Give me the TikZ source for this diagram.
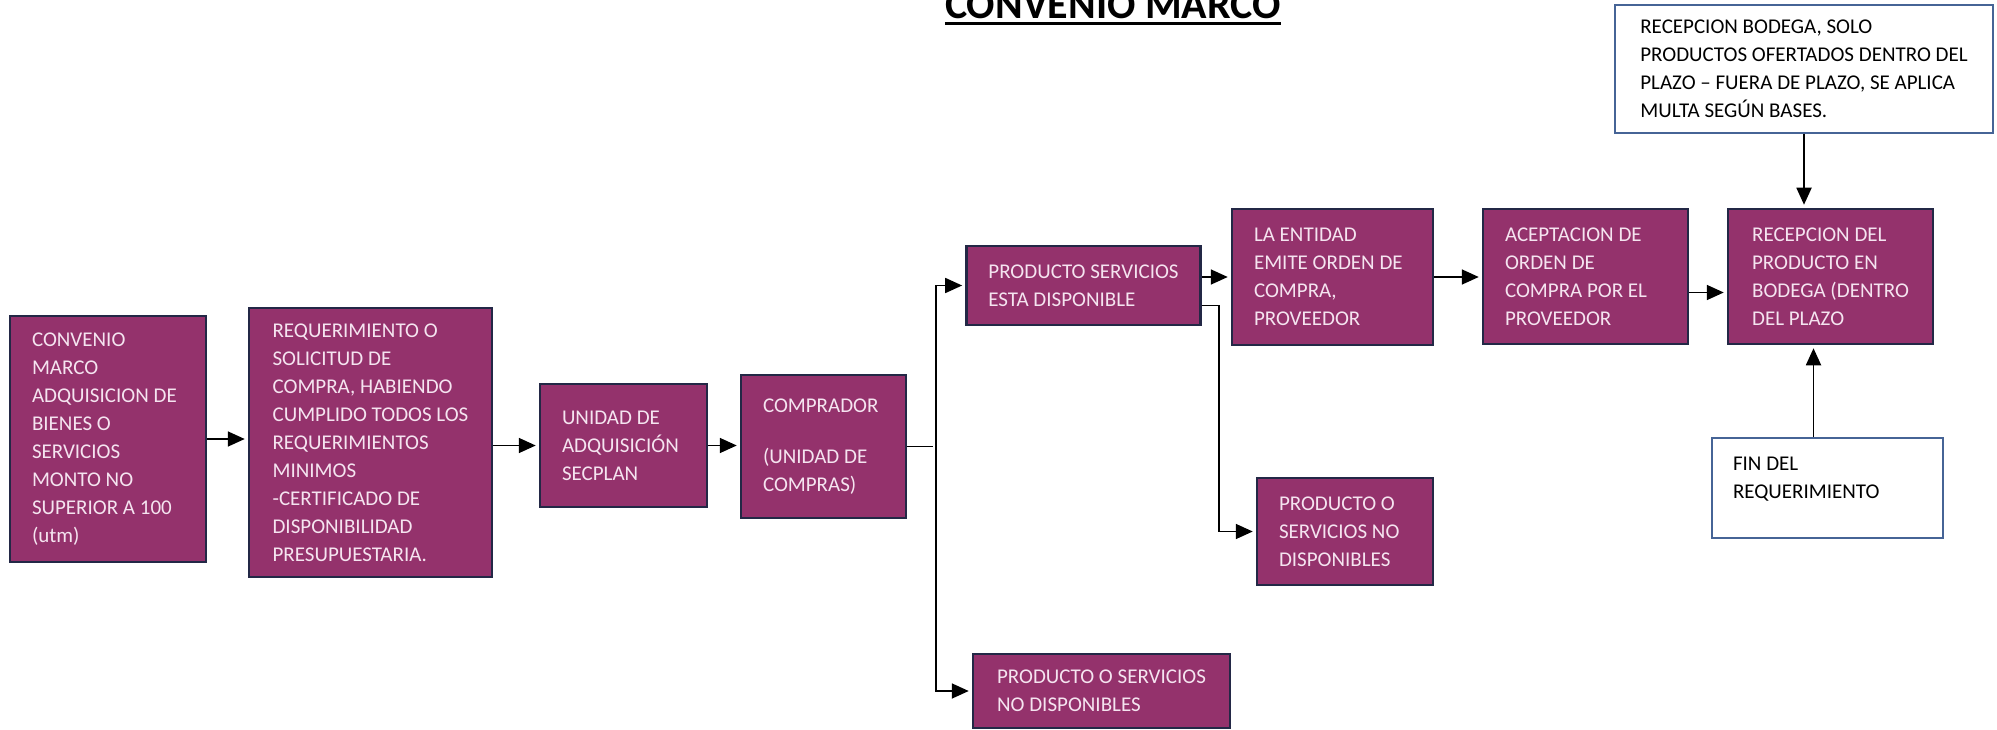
\documentclass[tikz,border=0pt]{standalone}
\usepackage{fontspec}
\setmainfont{Carlito}
\usetikzlibrary{arrows.meta}
\definecolor{plum}{RGB}{148,50,108}
\definecolor{navy}{RGB}{35,40,70}
\definecolor{pinkwhite}{RGB}{245,228,240}
\definecolor{noteblue}{RGB}{70,100,150}
\newcommand{\boxfont}{\fontsize{21}{28}\selectfont}

\begin{document}
\begin{tikzpicture}[
  x=1pt, y=-1pt,
  stage/.style={rectangle,draw=navy,fill=plum,line width=2.5pt,text=pinkwhite,
    align=flush left,inner xsep=22pt,inner ysep=4pt,font=\boxfont},
  note/.style={rectangle,draw=noteblue,fill=white,line width=1.2pt,text=black,
    align=flush left,inner xsep=21pt,inner ysep=4pt,font=\boxfont}
]
  \path[use as bounding box, fill=white] (0,0) rectangle (1997,730);

  \node[font=\fontsize{42}{50}\selectfont\bfseries, inner sep=0pt, anchor=base] (title) at (1113,19) {CONVENIO MARCO};
  \draw[line width=3pt] ([yshift=-5pt]title.base west) -- ([yshift=-5pt]title.base east);

  \node[stage, text width=152pt, minimum height=246pt] (conv) at (108,439)
    {CONVENIO\\MARCO\\ADQUISICION DE\\BIENES O\\SERVICIOS\\MONTO NO\\SUPERIOR A 100\\(utm)};
  \node[stage, minimum width=243pt, minimum height=269pt] (req) at (370.5,442.5)
    {REQUERIMIENTO O\\SOLICITUD DE\\COMPRA, HABIENDO\\CUMPLIDO TODOS LOS\\REQUERIMIENTOS\\MINIMOS\\-CERTIFICADO DE\\DISPONIBILIDAD\\PRESUPUESTARIA.};
  \node[stage, text width=123pt, minimum height=123pt] (unidad) at (623.5,445.5)
    {UNIDAD DE\\ADQUISICIÓN\\SECPLAN};
  \node[stage, text width=121pt, minimum height=143pt] (comprador) at (823.5,446.5)
    {COMPRADOR\\[23pt](UNIDAD DE\\COMPRAS)};
  \node[stage, minimum width=231pt, minimum height=79pt] (disp) at (1083.5,285.5)
    {PRODUCTO SERVICIOS\\ESTA DISPONIBLE};
  \node[stage, minimum width=257pt, minimum height=74pt] (nodispb) at (1101.5,691)
    {PRODUCTO O SERVICIOS\\NO DISPONIBLES};
  \node[stage, text width=157pt, minimum height=136pt] (emite) at (1332.5,277)
    {LA ENTIDAD\\EMITE ORDEN DE\\COMPRA,\\PROVEEDOR};
  \node[stage, text width=132pt, minimum height=107pt] (nodisp) at (1345,531.5)
    {PRODUCTO O\\SERVICIOS NO\\DISPONIBLES};
  \node[stage, text width=161pt, minimum height=135pt] (acept) at (1585.5,276.5)
    {ACEPTACION DE\\ORDEN DE\\COMPRA POR EL\\PROVEEDOR};
  \node[stage, minimum width=205pt, minimum height=135pt] (recep) at (1830.5,276.5)
    {RECEPCION DEL\\PRODUCTO EN\\BODEGA (DENTRO\\DEL PLAZO};

  \node[note, minimum width=378pt, minimum height=128pt] (bases) at (1804,69)
    {RECEPCION BODEGA, SOLO\\PRODUCTOS OFERTADOS DENTRO DEL\\PLAZO – FUERA DE PLAZO, SE APLICA\\MULTA SEGÚN BASES.};
  \node[note, text width=189pt, minimum height=100pt] (fin) at (1827.5,488)
    {FIN DEL\\REQUERIMIENTO\\[-8pt]\rule{0pt}{0pt}};

  \begin{scope}[->, >={Triangle[length=17pt,width=15pt]}, line width=1.8pt, shorten >=3pt]
    \draw (conv.east) -- (conv.east -| req.west);
    \draw (req.east |- unidad.west) -- (unidad.west);
    \draw (unidad.east) -- (unidad.east -| comprador.west);
    \draw[-] (comprador.east) -- ++(29,0) coordinate (split);
    \draw (split) |- (disp.west);
    \draw (split) |- (nodispb.west);
    \draw (disp.east |- emite.west) -- (emite.west);
    \draw ([yshift=-20pt]disp.east) -| ([xshift=-37pt]nodisp.west) -- (nodisp.west);
    \draw (emite.east) -- (emite.east -| acept.west);
    \draw ([yshift=-16pt]acept.east) -- ([yshift=-16pt]recep.west);
    \draw (bases.south) -- (bases.south |- recep.north);
    \draw ([xshift=-14pt]fin.north) -- ([xshift=-14pt]fin.north |- recep.south);
  \end{scope}
\end{tikzpicture}
\end{document}
